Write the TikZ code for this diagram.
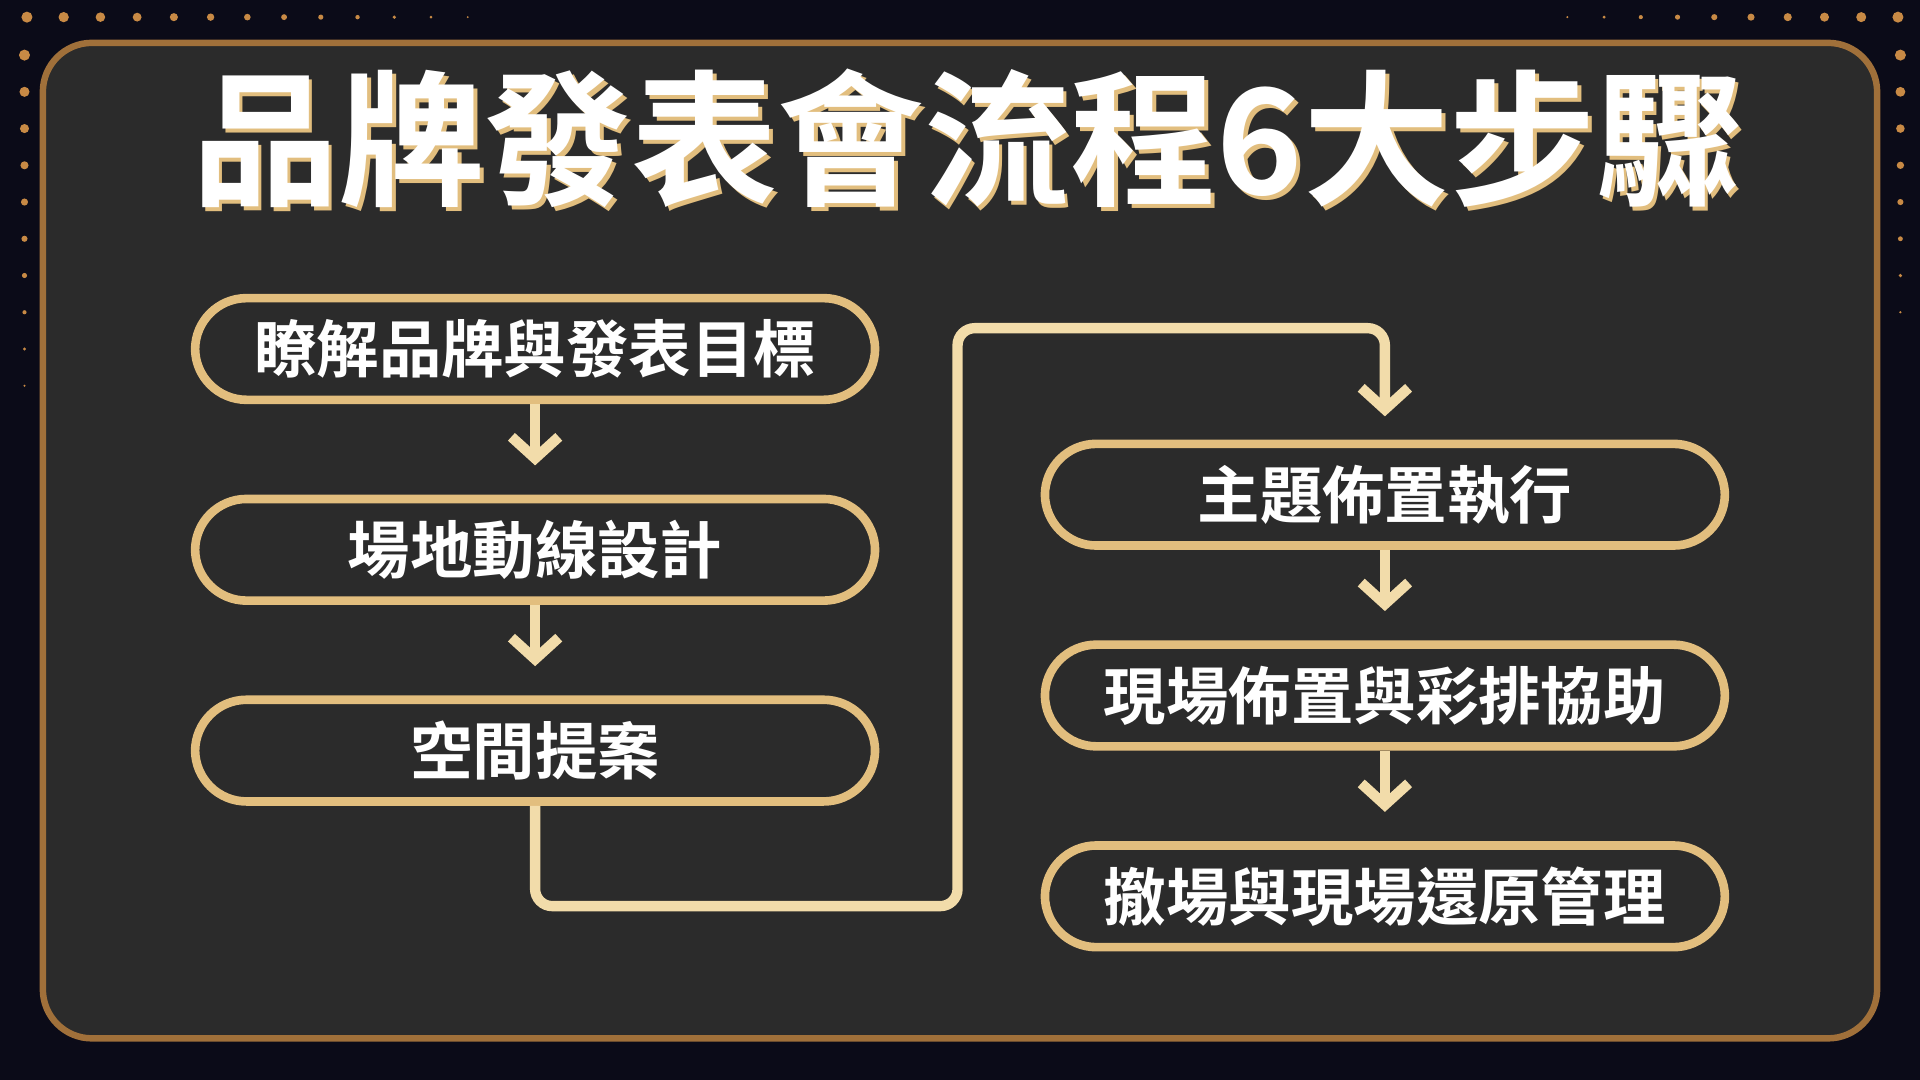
\documentclass[tikz,border=0pt]{standalone}
\usepackage{fontspec}
\newfontfamily\cjk{Noto Sans CJK TC}[BoldFont={* Bold}]
\usetikzlibrary{arrows.meta}
\definecolor{bgnavy}{HTML}{0B0B18}
\definecolor{panel}{HTML}{2B2B2B}
\definecolor{goldline}{HTML}{A0703A}
\definecolor{goldlight}{HTML}{F2DCAA}
\definecolor{goldedge}{HTML}{E2BE7E}
\definecolor{dotc}{HTML}{C88A45}
\tikzset{
  stepbox/.style={draw=goldedge, line width=2pt, fill=panel, rounded corners=0.42cm, minimum width=5.55cm, minimum height=0.83cm, text=white, font=\cjk\bfseries\fontsize{14.5}{17}\selectfont},
  flow/.style={draw=goldlight, line width=2.4pt, rounded corners=0.14cm, -{Straight Barb[length=5pt,width=11pt,line width=2.4pt]}},
}
\begin{document}
\begin{tikzpicture}[x=0.01cm,y=-0.01cm]
\fill[bgnavy] (0,0) rectangle (1568,882);
\useasboundingbox (0,0) rectangle (1568,882);
% dots
\foreach \i in {0,...,12} \fill[dotc] (22+\i*30,14) circle (4.5-\i*0.3);
\foreach \i in {0,...,9} \fill[dotc] (20,45+\i*30) circle (4.5-\i*0.4);
\foreach \i in {0,...,9} \fill[dotc] (1550-\i*30,14) circle (4.5-\i*0.4);
\foreach \i in {0,...,7} \fill[dotc] (1552,45+\i*30) circle (4.5-\i*0.5);
\draw[goldline, line width=1.5pt, fill=panel, rounded corners=0.4cm] (35,35) rectangle (1533,848);
% title
\node[text=goldedge, font=\cjk\bfseries\fontsize{34}{38}\selectfont] at (793,116) {品牌發表會流程6大步驟};
\node[text=white, font=\cjk\bfseries\fontsize{34}{38}\selectfont] (title) at (790,113) {品牌發表會流程6大步驟};
% boxes
\node[stepbox] (s1) at (437,285) {瞭解品牌與發表目標};
\node[stepbox] (s2) at (437,449) {場地動線設計};
\node[stepbox] (s3) at (437,613) {空間提案};
\node[stepbox] (s4) at (1131,404) {主題佈置執行};
\node[stepbox] (s5) at (1131,568) {現場佈置與彩排協助};
\node[stepbox] (s6) at (1131,732) {撤場與現場還原管理};
% arrows
\draw[flow] (s1.south) -- ++(0,50);
\draw[flow] (s2.south) -- ++(0,50);
\draw[flow] (s4.south) -- ++(0,50);
\draw[flow] (s5.south) -- ++(0,50);
\coordinate (c1) at (437,740);
\coordinate (c2) at (782,740);
\coordinate (c3) at (782,268);
\coordinate (c4) at (1131,268);
\coordinate (c5) at (1131,340);
\draw[flow] (s3.south) -- (c1) -- (c2) -- (c3) -- (c4) -- (c5);
\end{tikzpicture}
\end{document}
